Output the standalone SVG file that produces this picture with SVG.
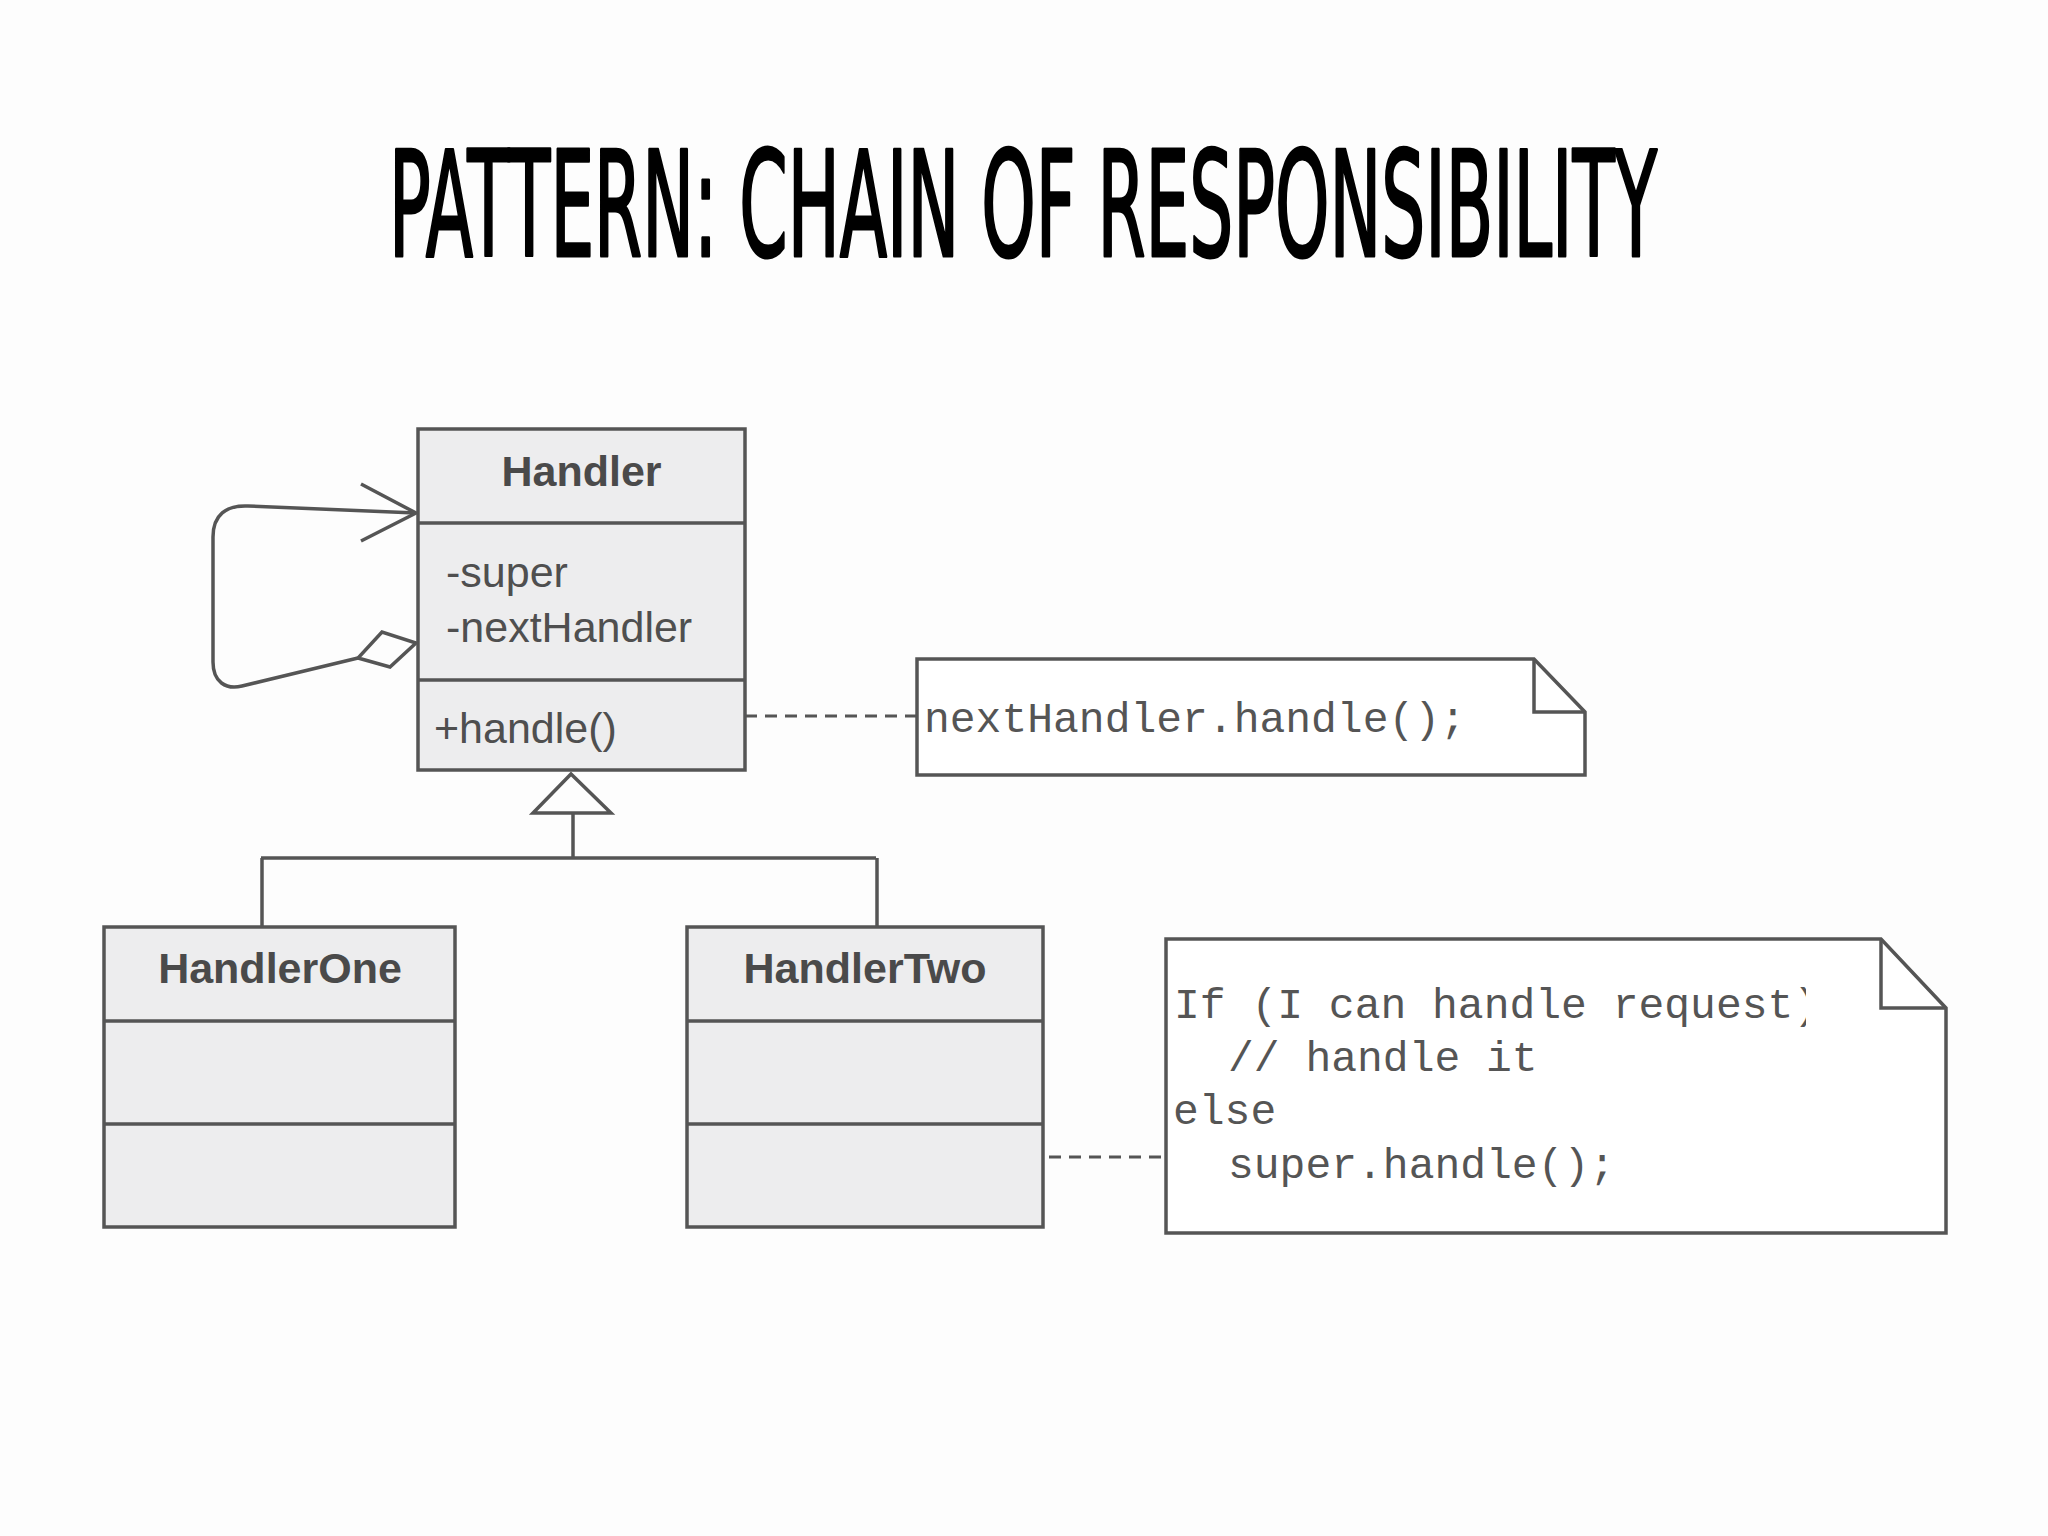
<svg xmlns="http://www.w3.org/2000/svg" width="2048" height="1536" viewBox="0 0 2048 1536">
  <defs>
    <style>
      .box { fill: #ededee; stroke: #555; stroke-width: 3.5; }
      .div { stroke: #555; stroke-width: 3.5; fill: none; }
      .line { stroke: #555; stroke-width: 3.5; fill: none; }
      .dash { stroke: #555; stroke-width: 3; fill: none; stroke-dasharray: 12 8; }
      .note { fill: #ffffff; stroke: #555; stroke-width: 3.5; }
      .cls { font-family: "Liberation Sans", Arial, sans-serif; font-weight: bold; font-size: 43px; fill: #4a4a4a; text-anchor: middle; }
      .mem { font-family: "Liberation Sans", Arial, sans-serif; font-size: 43px; fill: #4f4f4f; }
      .code { font-family: "Liberation Mono", "Courier New", monospace; font-size: 43px; fill: #555; }
      .title { font-family: "DejaVu Sans Condensed", "Liberation Sans Narrow", sans-serif; font-size: 147px; fill: #000; stroke: #000; stroke-width: 3; stroke-linejoin: round; }
    </style>
    <clipPath id="noteclip">
      <rect x="1166" y="939" width="640" height="300"/>
    </clipPath>
  </defs>
  <rect x="0" y="0" width="2048" height="1536" fill="#fdfdfd"/>

  <g transform="translate(389,256) scale(0.47,1)">
    <text class="title" x="0" y="0" textLength="2698" lengthAdjust="spacingAndGlyphs">PATTERN: CHAIN OF RESPONSIBILITY</text>
  </g>

  <g id="connectors">
    <path class="line" d="M416,513 L248,506 C226,505 213,515 213,537 L213,662 C213,682 226,690 242,686 L358,658"/>
    <path class="line" d="M361,484 L416,513 L361,541"/>
    <path class="line" d="M358,658 L390,667 L416,643 L382,632 Z" style="fill:#fdfdfd"/>
    <path class="line" d="M573,813 V858 M261,858 H876 M262,858 V927 M877,858 V927"/>
    <polygon class="line" points="571,774 533,813 611,813" style="fill:#fdfdfd"/>
    <path class="dash" d="M745,716 H917"/>
    <path class="dash" d="M1049,1157 H1166"/>
  </g>

  <g id="handler">
    <rect class="box" x="418" y="429" width="327" height="341"/>
    <path class="div" d="M418,523 H745 M418,680 H745"/>
    <text class="cls" x="581.5" y="486">Handler</text>
    <text class="mem" x="446" y="587">-super</text>
    <text class="mem" x="446" y="642">-nextHandler</text>
    <text class="mem" x="434" y="743">+handle()</text>
  </g>

  <g id="handlerOne">
    <rect class="box" x="104" y="927" width="351" height="300"/>
    <path class="div" d="M104,1021 H455 M104,1124 H455"/>
    <text class="cls" x="280" y="983">HandlerOne</text>
  </g>

  <g id="handlerTwo">
    <rect class="box" x="687" y="927" width="356" height="300"/>
    <path class="div" d="M687,1021 H1043 M687,1124 H1043"/>
    <text class="cls" x="865" y="983">HandlerTwo</text>
  </g>

  <g id="note1">
    <path class="note" d="M917,659 H1534 L1585,712 V775 H917 Z"/>
    <path class="line" d="M1534,659 V712 H1585"/>
    <text class="code" x="924" y="732">nextHandler.handle();</text>
  </g>

  <g id="note2">
    <path class="note" d="M1166,939 H1881 L1946,1008 V1233 H1166 Z"/>
    <path class="line" d="M1881,939 V1008 H1946"/>
    <text class="code" x="1174" y="1018" clip-path="url(#noteclip)">If (I can handle request)</text>
    <text class="code" x="1228" y="1071">// handle it</text>
    <text class="code" x="1173" y="1124">else</text>
    <text class="code" x="1228" y="1178">super.handle();</text>
  </g>
</svg>
